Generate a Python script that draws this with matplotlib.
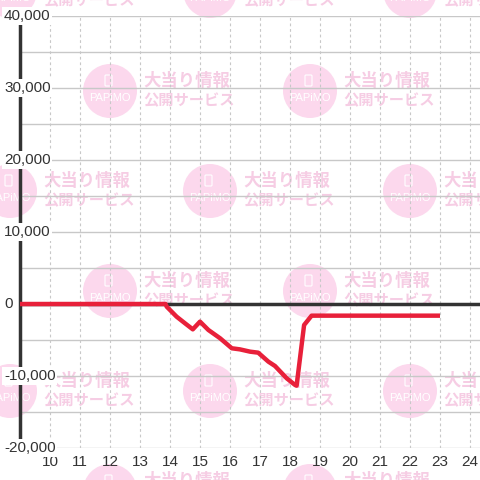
import matplotlib
matplotlib.use("Agg")
import matplotlib.pyplot as plt
from matplotlib.patches import Circle, FancyBboxPatch
import matplotlib.transforms as mtransforms
import numpy as np

# data (hour of day, balance)
hours = [9.0, 13.85, 13.89, 14.22, 14.5, 14.76, 15.0, 15.28, 15.67, 16.06,
         16.33, 16.67, 16.94, 17.28, 17.5, 17.89, 18.17, 18.22, 18.47, 18.72, 23.0]
values = [0, 0, -370, -1760, -2680, -3520, -2450, -3610, -4760, -6150,
          -6300, -6620, -6760, -8010, -8610, -10320, -11250, -11350, -2920, -1620, -1620]

x_ticks = list(range(10, 25))
y_ticks = [-20000, -10000, 0, 10000, 20000, 30000, 40000]
y_grid = list(range(-20000, 40001, 5000))

LINE_RED = "#e8203a"
DARK = "#333333"
GRID = "#c8c8c8"
WM_CIRCLE = "#fcd8ed"
WM_TEXT = "#f6cde4"

fig = plt.figure(figsize=(4.8, 4.8), dpi=100)

# background watermark layer, pixel coordinates (y down)
bg = fig.add_axes([0, 0, 1, 1], zorder=0)
bg.set_xlim(0, 480)
bg.set_ylim(480, 0)
bg.axis("off")

def watermark(cx, cy):
    bg.add_patch(Circle((cx, cy), 27, color=WM_CIRCLE, lw=0))
    bg.add_patch(FancyBboxPatch((cx - 5, cy - 16), 7, 11,
                                boxstyle="round,pad=0,rounding_size=1",
                                fc="none", ec="white", lw=0.8))
    bg.text(cx, cy + 7, "PAPiMO", color="white", fontsize=8,
            family="Liberation Sans", ha="center", va="center")
    bg.text(cx + 33, cy - 10, "大当り情報", color=WM_TEXT, fontsize=12.5,
            family="Noto Sans CJK JP", weight="bold", ha="left", va="center")
    bg.text(cx + 33, cy + 9, "公開サービス", color=WM_TEXT, fontsize=11,
            family="Noto Sans CJK JP", weight="bold", ha="left", va="center")

for row, cy in enumerate(range(-9, 500, 100)):
    xs = [10, 210, 410] if row % 2 == 0 else [110, 310]
    for cx in xs:
        watermark(cx, cy)

ax = fig.add_axes([20 / 480, 32 / 480, 460 / 480, 432 / 480], zorder=1)
ax.set_facecolor("none")
ax.set_xlim(9, 24 + 1 / 3)
ax.set_ylim(-20000, 40000)
for s in ax.spines.values():
    s.set_visible(False)

# grid
for v in y_grid:
    ax.axhline(v, color=GRID, lw=1.0, zorder=1)
for h in x_ticks:
    ax.axvline(h, color=GRID, lw=0.8, ls=(0, (2.5, 2.5)), zorder=1)

ax.axvline(9, color=DARK, lw=2.5, zorder=3, clip_on=False)
ax.axhline(0, color=DARK, lw=2.5, zorder=3)

ax.plot(hours, values, color=LINE_RED, lw=3.2, zorder=4,
        solid_joinstyle="round", solid_capstyle="butt")

ax.set_xticks(x_ticks)
ax.set_xticklabels([str(h) for h in x_ticks])
ax.set_yticks([])
ax.tick_params(axis="x", length=0, pad=5, labelsize=11, labelcolor=DARK)
for lab in ax.get_xticklabels():
    lab.set_family("Liberation Sans")

trans = mtransforms.blended_transform_factory(ax.transAxes, ax.transData)
for v in y_ticks:
    ax.text(-16 / 460, v, f"{v:,}", transform=trans, ha="left", va="center",
            fontsize=11, color=DARK, family="Liberation Sans", zorder=6,
            clip_on=False,
            bbox=dict(boxstyle="square,pad=0.1", fc="white", ec="none"))

fig.savefig("out.png", dpi=100)
